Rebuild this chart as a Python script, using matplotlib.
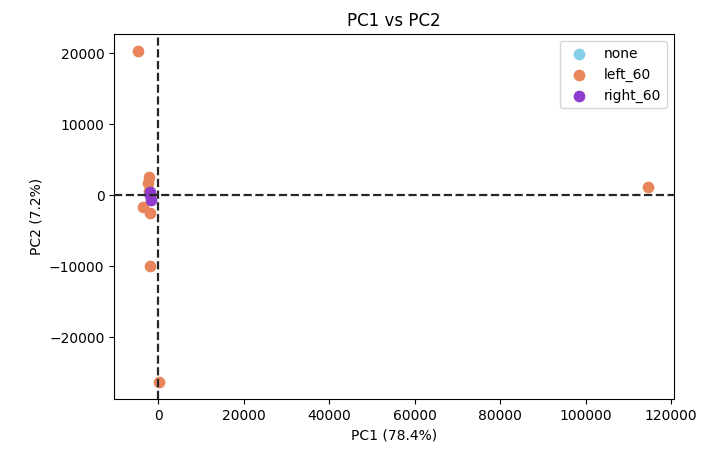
import numpy as np
import matplotlib.pyplot as plt

# PCA scores, grouped by condition
groups = ["none", "left_60", "right_60"]
colors = ["skyblue", "#e8855a", "#8e3ccb"]

none_pc1 = [-1900]
none_pc2 = [200]

left_pc1 = [-4700, 114600, 230, -1870, -2100, -2300, -3500, -1900, -2200]
left_pc2 = [20300, 1130, -26300, -10000, 2500, 1700, -1700, -2500, 600]

right_pc1 = [-1900, -1600, -2000]
right_pc2 = [100, -700, 400]

pc1_var = 78.4
pc2_var = 7.2

fig = plt.figure(figsize=(7.05, 4.54), dpi=100)
ax = fig.add_axes([0.162, 0.121, 0.794, 0.804])

xs = [none_pc1, left_pc1, right_pc1]
ys = [none_pc2, left_pc2, right_pc2]
for g, c, x, y in zip(groups, colors, xs, ys):
    ax.scatter(x, y, color=c, s=55, label=g, zorder=2)

ax.axhline(0, color="0.15", ls="--", lw=1.6, zorder=3)
ax.axvline(0, color="0.15", ls="--", lw=1.6, zorder=3)

ax.set_xlim(-10300, 120700)
ax.set_ylim(-28700, 22700)
ax.set_xlabel(f"PC1 ({pc1_var}%)")
ax.set_ylabel(f"PC2 ({pc2_var}%)")
ax.set_title("PC1 vs PC2")
ax.legend(loc="upper right")

fig.savefig("out.png", dpi=100)
